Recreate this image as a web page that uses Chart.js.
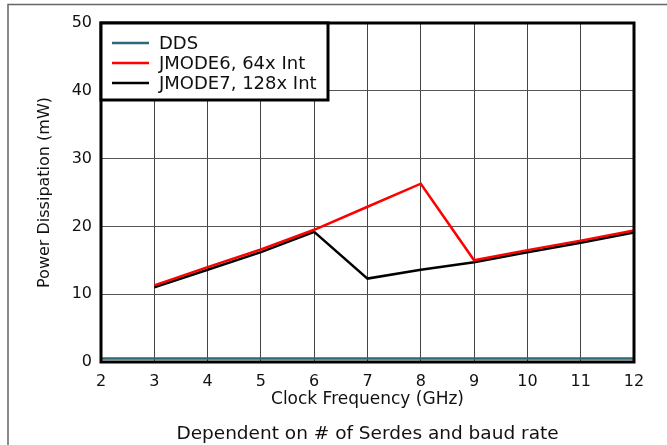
<!DOCTYPE html>
<html>
<head>
<meta charset="utf-8">
<script src="https://cdn.jsdelivr.net/npm/chart.js@4/dist/chart.umd.min.js"></script>
<style>
  html,body{margin:0;padding:0;background:#fff;}
  #wrap{width:667px;height:445px;position:relative;}
</style>
</head>
<body>
<div id="wrap"><canvas id="c" width="667" height="445"></canvas></div>
<script>
// data
const freqs   = [2, 3, 4, 5, 6, 7, 8, 9, 10, 11, 12];
const dds     = [0.5, 0.5, 0.5, 0.5, 0.5, 0.5, 0.5, 0.5, 0.5, 0.5, 0.5];
const jmode6  = [null, 11.3, 14.0, 16.6, 19.5, 22.9, 26.3, 15.0, 16.5, 17.9, 19.4];
const jmode7  = [null, 11.0, 13.6, 16.2, 19.2, 12.3, 13.6, 14.7, 16.2, 17.6, 19.1];
const seriesNames = ["DDS", "JMODE6, 64x Int", "JMODE7, 128x Int"];
const yTicks = [0, 10, 20, 30, 40, 50];
const caption = "Dependent on # of Serdes and baud rate";

const FONT = "'DejaVu Sans', sans-serif";

function pts(arr){
  return freqs.map((f,i)=>({x:f,y:arr[i]})).filter(p=>p.y!==null);
}

// outer frame, plot box, legend inside the plot, caption
const decor = {
  id:"decor",
  beforeDraw(chart){
    const c = chart.ctx;
    c.save();
    c.strokeStyle = "#666";
    c.lineWidth = 1.5;
    c.beginPath();
    c.moveTo(8, 445); c.lineTo(8, 4.5); c.lineTo(667, 4.5);
    c.stroke();
    c.restore();
  },
  afterDatasetsDraw(chart){
    const c = chart.ctx, a = chart.chartArea;
    c.save();
    c.strokeStyle = "#000";
    c.lineWidth = 3;
    c.strokeRect(a.left, a.top, a.right - a.left, a.bottom - a.top);

    // legend box
    const bx = a.left, by = a.top, bw = 227, bh = 77;
    c.fillStyle = "#fff";
    c.fillRect(bx, by, bw, bh);
    c.strokeRect(bx, by, bw, bh);
    c.font = "18px " + FONT;
    c.textBaseline = "middle";
    chart.data.datasets.forEach((ds, i) => {
      const y = by + 20 + i * 20;
      c.strokeStyle = ds.borderColor;
      c.lineWidth = 2.5;
      c.beginPath();
      c.moveTo(bx + 11, y); c.lineTo(bx + 48, y);
      c.stroke();
      c.fillStyle = "#111";
      c.fillText(ds.label, bx + 58, y + 1);
    });

    c.font = "18.5px " + FONT;
    c.textAlign = "center";
    c.fillStyle = "#111";
    c.fillText(caption, (a.left + a.right) / 2, 434);
    c.restore();
  }
};

new Chart(document.getElementById("c"), {
  type: "line",
  data: {
    datasets: [
      {label: seriesNames[0], data: pts(dds),    borderColor: "#2a6a7a", borderWidth: 2.5},
      {label: seriesNames[1], data: pts(jmode6), borderColor: "#ff0000", borderWidth: 2.5},
      {label: seriesNames[2], data: pts(jmode7), borderColor: "#000000", borderWidth: 2.5}
    ]
  },
  options: {
    responsive: false,
    animation: false,
    devicePixelRatio: 1,
    elements: {point: {radius: 0}, line: {tension: 0}},
    layout: {padding: {left: 0, right: 33, top: 23, bottom: 0}},
    plugins: {legend: {display: false}, tooltip: {enabled: false}},
    scales: {
      x: {
        type: "linear",
        min: 2, max: 12,
        border: {display: false},
        grid: {color: "#444", lineWidth: 1, drawTicks: false},
        ticks: {stepSize: 1, color: "#111", padding: 10, maxRotation: 0, font: {family: FONT, size: 16}},
        title: {display: true, text: "Clock Frequency (GHz)", color: "#111",
                font: {family: FONT, size: 17}, padding: {top: 0, bottom: 35}},
        afterFit(s){ s.height = 83; }
      },
      y: {
        min: 0, max: 50,
        border: {display: false},
        grid: {color: "#555", lineWidth: 1, drawTicks: false},
        afterBuildTicks(s){ s.ticks = yTicks.map(v => ({value: v})); },
        ticks: {color: "#111", padding: 9, font: {family: FONT, size: 16}},
        title: {display: true, text: "Power Dissipation (mW)", color: "#111",
                font: {family: FONT, size: 16}, padding: {top: 35, bottom: 0}},
        afterFit(s){ s.width = 101; }
      }
    }
  },
  plugins: [decor]
});
</script>
</body>
</html>
